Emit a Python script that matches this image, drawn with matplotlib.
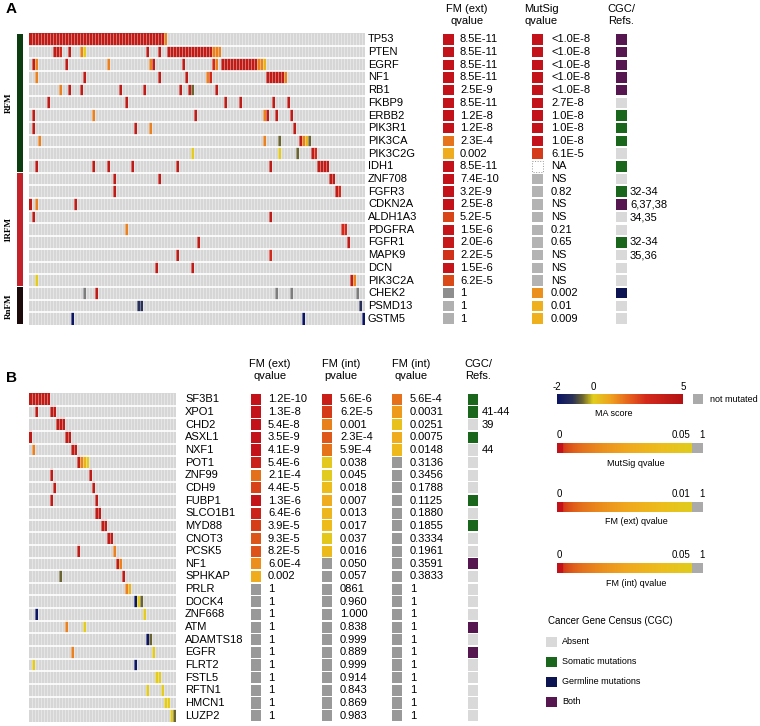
import numpy as np
import matplotlib
matplotlib.use('Agg')
import matplotlib.pyplot as plt
from matplotlib.colors import LinearSegmentedColormap, Normalize, to_rgba

plt.rcParams['font.family'] = ['Liberation Sans', 'DejaVu Sans']

# mutation score levels (MA score)
R, R2, O, Y, Y0, V, S, N, G = 4.2, 3.0, 1.5, 0.6, 0.1, -0.6, -1.2, -2.0, None

# ---------------- panel A data ----------------
a_genes = ['TP53', 'PTEN', 'EGRF', 'NF1', 'RB1', 'FKBP9', 'ERBB2', 'PIK3R1', 'PIK3CA',
           'PIK3C2G', 'IDH1', 'ZNF708', 'FGFR3', 'CDKN2A', 'ALDH1A3', 'PDGFRA', 'FGFR1',
           'MAPK9', 'DCN', 'PIK3C2A', 'CHEK2', 'PSMD13', 'GSTM5']
a_n_samples = 112
# (first sample, last sample, MA score)
a_runs = [
    [(0, 44, R), (45, 45, O)],
    [(8, 9, R), (10, 10, R2), (13, 13, R), (17, 17, O), (18, 18, Y0), (39, 39, R), (43, 43, R),
     (46, 60, R), (61, 63, O)],
    [(1, 1, R), (2, 2, O), (12, 12, R), (26, 26, O), (40, 40, O), (41, 41, R), (51, 51, R),
     (61, 61, R2), (62, 62, O), (64, 75, R), (76, 77, O), (78, 78, Y)],
    [(2, 2, O), (18, 18, R), (43, 43, R), (52, 52, R), (59, 59, O), (60, 60, R2),
     (79, 84, R), (85, 85, O)],
    [(10, 10, O), (13, 13, R), (17, 17, R), (30, 30, R), (38, 38, R), (50, 50, R),
     (53, 53, R), (54, 54, V), (62, 62, R)],
    [(6, 6, R), (32, 32, R), (65, 65, R), (70, 70, R), (81, 81, R), (86, 86, R)],
    [(1, 1, R), (21, 21, O), (55, 55, R), (78, 78, O), (79, 79, R), (82, 82, R), (87, 87, R)],
    [(1, 1, R), (35, 35, R), (40, 40, O), (88, 88, R)],
    [(3, 3, O), (78, 78, O), (83, 83, V), (90, 90, R), (91, 91, O), (92, 92, Y), (93, 93, V)],
    [(54, 54, Y0), (83, 83, Y0), (89, 89, V), (94, 94, R), (95, 95, R2)],
    [(2, 2, R), (21, 21, R), (26, 26, R), (34, 34, R), (49, 49, R), (80, 80, R), (96, 99, R)],
    [(28, 28, R), (43, 43, R), (100, 101, R)],
    [(28, 28, R), (102, 102, R), (103, 103, R2)],
    [(0, 0, R), (2, 2, O), (15, 15, R)],
    [(1, 1, R), (80, 80, R)],
    [(32, 32, O), (104, 105, R2)],
    [(56, 56, R), (106, 106, R)],
    [(49, 49, R), (80, 80, R2)],
    [(42, 42, R), (54, 54, R)],
    [(2, 2, Y0), (107, 107, R), (108, 108, O)],
    [(18, 18, G), (22, 22, R), (82, 82, G), (87, 87, G), (109, 109, G)],
    [(36, 37, S), (110, 110, S)],
    [(14, 14, N), (91, 91, N), (111, 111, N)],
]
a_groups = ['RFM', '1RFM', 'RnFM']
a_group_sizes = [11, 9, 3]
a_group_colors = ['#0b3d10', '#c4222a', '#1c0a0a']
a_fm_ext = ['8.5E-11', '8.5E-11', '8.5E-11', '8.5E-11', '2.5E-9', '8.5E-11', '1.2E-8', '1.2E-8',
            '2.3E-4', '0.002', '8.5E-11', '7.4E-10', '3.2E-9', '2.5E-8', '5.2E-5', '1.5E-6',
            '2.0E-6', '2.2E-5', '1.5E-6', '6.2E-5', '1', '1', '1']
a_mutsig = ['<1.0E-8'] * 5 + ['2.7E-8', '1.0E-8', '1.0E-8', '1.0E-8', '6.1E-5', 'NA', 'NS',
                             '0.82', 'NS', 'NS', '0.21', '0.65', 'NS', 'NS', 'NS', '0.002',
                             '0.01', '0.009']
a_cgc = ['both'] * 5 + ['absent', 'somatic', 'somatic', 'somatic', 'absent', 'somatic',
                        'absent', 'somatic', 'both', 'absent', 'absent', 'somatic', 'absent',
                        'absent', 'absent', 'germline', 'absent', 'absent']
a_refs = [''] * 12 + ['32-34', '6,37,38', '34,35', '', '32-34', '35,36'] + [''] * 5

# ---------------- panel B data ----------------
b_genes = ['SF3B1', 'XPO1', 'CHD2', 'ASXL1', 'NXF1', 'POT1', 'ZNF99', 'CDH9', 'FUBP1',
           'SLCO1B1', 'MYD88', 'CNOT3', 'PCSK5', 'NF1', 'SPHKAP', 'PRLR', 'DOCK4', 'ZNF668',
           'ATM', 'ADAMTS18', 'EGFR', 'FLRT2', 'FSTL5', 'RFTN1', 'HMCN1', 'LUZP2']
b_n_samples = 49
b_runs = [
    [(0, 6, R)],
    [(2, 2, R), (7, 8, R)],
    [(9, 11, R)],
    [(0, 0, R), (12, 13, R)],
    [(1, 1, O), (14, 15, R)],
    [(16, 16, R), (17, 17, O), (18, 18, Y), (19, 19, Y0)],
    [(7, 7, R), (20, 20, R)],
    [(8, 8, R), (21, 21, R)],
    [(7, 7, R), (22, 22, R)],
    [(22, 23, R)],
    [(24, 25, R)],
    [(26, 27, R)],
    [(16, 16, R), (28, 28, O)],
    [(29, 29, R), (30, 30, O)],
    [(10, 10, V), (31, 31, R)],
    [(32, 32, O), (33, 33, Y)],
    [(35, 35, N), (36, 36, Y0), (37, 37, V)],
    [(2, 2, N), (38, 38, Y0)],
    [(12, 12, O), (18, 18, Y0)],
    [(39, 39, N), (40, 40, V)],
    [(14, 14, O), (41, 41, Y0)],
    [(1, 1, Y0), (35, 35, N)],
    [(42, 43, Y0)],
    [(39, 39, Y0), (44, 44, Y0)],
    [(45, 46, Y0)],
    [(47, 47, Y0), (48, 48, V)],
]
b_fm_ext = ['1.2E-10', '1.3E-8', '5.4E-8', '3.5E-9', '4.1E-9', '5.4E-6', '2.1E-4', '4.4E-5',
            '1.3E-6', '6.4E-6', '3.9E-5', '9.3E-5', '8.2E-5', '6.0E-4', '0.002'] + ['1'] * 11
b_fm_int_p = ['5.6E-6', '6.2E-5', '0.001', '2.3E-4', '5.9E-4', '0.038', '0.045', '0.018',
              '0.007', '0.013', '0.017', '0.037', '0.016', '0.050', '0.057', '0861', '0.960',
              '1.000', '0.838', '0.999', '0.889', '0.999', '0.914', '0.843', '0.869', '0.983']
b_fm_int_q = ['5.6E-4', '0.0031', '0.0251', '0.0075', '0.0148', '0.3136', '0.3456', '0.1788',
              '0.1125', '0.1880', '0.1855', '0.3334', '0.1961', '0.3591', '0.3833'] + ['1'] * 11
b_cgc = ['somatic', 'somatic', 'absent', 'somatic', 'absent', 'absent', 'absent', 'absent',
         'somatic', 'absent', 'somatic', 'absent', 'absent', 'both', 'absent', 'absent',
         'absent', 'absent', 'both', 'absent', 'both', 'absent', 'absent', 'absent', 'absent',
         'absent']
b_refs = ['', '41-44', '39', '', '44'] + [''] * 21

cgc_names = ['Absent', 'Somatic mutations', 'Germline mutations', 'Both']
cgc_colors = {'absent': '#d9d9d9', 'somatic': '#1b661d', 'germline': '#0c1552', 'both': '#561650'}

# ---------------- colours ----------------
ma_cmap = LinearSegmentedColormap.from_list('ma', [
    (0.0, '#0b1563'), (0.12, '#2a3158'), (0.2, '#6b6530'), (0.286, '#e2cf1f'),
    (0.43, '#efa01f'), (0.57, '#e6621e'), (0.71, '#d42a1c'), (1.0, '#b31314')])
ma_norm = Normalize(-2, 5)
q_cmap = LinearSegmentedColormap.from_list('q', [
    (0.0, '#c3121a'), (0.3, '#cf2a18'), (0.45, '#da4a18'), (0.6, '#e6761c'),
    (0.8, '#f0a81e'), (0.92, '#ecbe1c'), (1.0, '#e0cc1e')])
BG = '#d6d6d6'
MUT_GRAY = '#7d7d7d'

W, H = 760, 726
fig = plt.figure(figsize=(W / 100, H / 100), dpi=100)


def px_axes(x0, y0, x1, y1):
    ax = fig.add_axes([x0 / W, 1 - y1 / H, (x1 - x0) / W, (y1 - y0) / H])
    ax.set_axis_off()
    return ax


def ftext(x, y, s, **kw):
    fig.text(x / W, 1 - y / H, s, **kw)


def q_color(label, thr, gray):
    if label == 'NA':
        return 'white'
    if label == 'NS':
        return gray
    v = float(label.lstrip('<'))
    if v >= thr:
        return gray
    t = (np.log10(v) + 6) / (np.log10(thr) + 6)
    return q_cmap(float(np.clip(t, 0, 1)))


def draw_heatmap(ax, runs, n_cols):
    n_rows = len(runs)
    cells = np.empty((n_rows, n_cols, 4))
    cells[:] = to_rgba(BG)
    for i, row in enumerate(runs):
        for start, stop, score in row:
            c = to_rgba(MUT_GRAY) if score is None else ma_cmap(ma_norm(score))
            cells[i, start:stop + 1] = c
    ax.imshow(cells, aspect='auto', interpolation='nearest', extent=(0, n_cols, n_rows, 0))
    # thin light stripes between samples, white gaps between genes
    ax.vlines(np.arange(1, n_cols), 0, n_rows, color='white', lw=0.45, alpha=0.6)
    ax.hlines(np.arange(1, n_rows), 0, n_cols, color='white', lw=1.2)
    ax.set_xlim(0, n_cols)
    ax.set_ylim(n_rows, 0)


def draw_column(ax, x, width, hfrac, colors, labels=None, text_x=None, fs=8):
    n = len(colors)
    rows = np.arange(n)
    ax.bar(np.full(n, x), np.full(n, hfrac), width=width, bottom=rows + (1 - hfrac) / 2,
           align='edge', color=colors, linewidth=0)
    if labels is not None:
        for i, s in enumerate(labels):
            ax.text(text_x, i + 0.5, s, va='center', ha='left', fontsize=fs)


# ================= panel A =================
ftext(6, 9, 'A', fontsize=11, fontweight='bold', va='center')
a_top, a_bot = 33, 325
hm = px_axes(29, a_top, 365, a_bot)
draw_heatmap(hm, a_runs, a_n_samples)

gax = px_axes(17, a_top, 23, a_bot)
starts = np.concatenate([[0], np.cumsum(a_group_sizes)[:-1]])
gax.bar(np.zeros(3), np.array(a_group_sizes) - 0.08, width=1, bottom=starts + 0.04,
        align='edge', color=a_group_colors)
gax.set_xlim(0, 1)
gax.set_ylim(len(a_genes), 0)
for name, st, sz in zip(a_groups, starts, a_group_sizes):
    gax.text(-1.4, st + sz / 2, name, rotation=90, ha='center', va='center', fontsize=6.5,
             fontweight='bold', family=['Liberation Serif', 'DejaVu Serif'])

tab = px_axes(365, a_top, 760, a_bot)
tab.set_xlim(365, 760)
tab.set_ylim(len(a_genes), 0)
for i, g in enumerate(a_genes):
    tab.text(368, i + 0.5, g, va='center', ha='left', fontsize=8)
fm_cols = [q_color(s, 0.01, '#8e8e8e' if i == 20 else '#b0b0b0') for i, s in enumerate(a_fm_ext)]
draw_column(tab, 443, 11, 0.82, fm_cols, a_fm_ext, 460)
ms_cols = [q_color(s, 0.05, '#b3b3b3') for s in a_mutsig]
draw_column(tab, 532, 11, 0.82, ms_cols, a_mutsig, 551)
na = a_mutsig.index('NA')
tab.bar(532, 0.82, width=11, bottom=na + 0.09, align='edge', color='white',
        edgecolor='#999999', linestyle=':', linewidth=0.7)
draw_column(tab, 616, 11, 0.82, [cgc_colors[c] for c in a_cgc], a_refs, 630)

ftext(467, 15, 'FM (ext)\nqvalue', ha='center', va='center', fontsize=8, linespacing=1.25)
ftext(541, 15, 'MutSig\nqvalue', ha='center', va='center', fontsize=8, linespacing=1.25)
ftext(621, 15, 'CGC/\nRefs.', ha='center', va='center', fontsize=8, linespacing=1.25)

# ================= panel B =================
ftext(6, 378, 'B', fontsize=11, fontweight='bold', va='center')
b_top, b_bot = 393, 722
hm_b = px_axes(29, b_top, 176, b_bot)
draw_heatmap(hm_b, b_runs, b_n_samples)

tab_b = px_axes(176, b_top, 540, b_bot)
tab_b.set_xlim(176, 540)
tab_b.set_ylim(len(b_genes), 0)
for i, g in enumerate(b_genes):
    tab_b.text(185, i + 0.5, g, va='center', ha='left', fontsize=8)
draw_column(tab_b, 251, 10, 0.88, [q_color(s, 0.01, '#999999') for s in b_fm_ext], b_fm_ext, 268)
draw_column(tab_b, 322, 10, 0.88, [q_color(s, 0.05, '#999999') for s in b_fm_int_p], b_fm_int_p, 340)
draw_column(tab_b, 392, 10, 0.88, [q_color(s, 0.05, '#999999') for s in b_fm_int_q], b_fm_int_q, 410)
draw_column(tab_b, 468, 10, 0.88, [cgc_colors[c] for c in b_cgc], b_refs, 482)

ftext(270, 370, 'FM (ext)\nqvalue', ha='center', va='center', fontsize=8, linespacing=1.25)
ftext(341, 370, 'FM (int)\npvalue', ha='center', va='center', fontsize=8, linespacing=1.25)
ftext(411, 370, 'FM (int)\nqvalue', ha='center', va='center', fontsize=8, linespacing=1.25)
ftext(478, 370, 'CGC/\nRefs.', ha='center', va='center', fontsize=8, linespacing=1.25)

# ================= legends =================
lg = px_axes(540, 378, 760, 726)
ma_vals = np.linspace(-2, 5, 300)
lg.imshow(ma_vals[None, :], cmap=ma_cmap, norm=ma_norm, aspect='auto', extent=(557, 683, 404, 394))
for v in [-2, 0, 5]:
    lg.text(557 + (v + 2) / 7 * 126, 387, str(v), ha='center', va='center', fontsize=7)
lg.text(614, 413, 'MA score', ha='center', va='center', fontsize=6.5)
lg.bar(693, 10, width=10, bottom=394, align='edge', color='#aaaaaa')
lg.text(710, 399, 'not mutated', ha='left', va='center', fontsize=6.5)

q_bars = [('MutSig qvalue', '0.05', 443), ('FM (ext) qvalue', '0.01', 502), ('FM (int) qvalue', '0.05', 563)]
u = np.linspace(0, 1, 300)
grad = 0.32 + 0.68 * np.sqrt(u)
for title, thr_label, y in q_bars:
    lg.bar(557, 10, width=6, bottom=y, align='edge', color=q_cmap(0.0), linewidth=0)
    lg.imshow(grad[None, :], cmap=q_cmap, vmin=0, vmax=1, aspect='auto', extent=(563, 692, y + 10, y))
    lg.bar(692, 10, width=11, bottom=y, align='edge', color='#aaaaaa', linewidth=0)
    lg.text(559, y - 8, '0', ha='center', va='center', fontsize=7)
    lg.text(690, y - 8, thr_label, ha='right', va='center', fontsize=7)
    lg.text(702, y - 8, '1', ha='center', va='center', fontsize=7)
    lg.text(636, y + 20, title, ha='center', va='center', fontsize=6.5)

lg.text(548, 621, 'Cancer Gene Census (CGC)', ha='left', va='center', fontsize=7)
for k, (name, key) in enumerate(zip(cgc_names, ['absent', 'somatic', 'germline', 'both'])):
    y = 637 + 20 * k
    lg.bar(546, 10, width=11, bottom=y, align='edge', color=cgc_colors[key], linewidth=0)
    lg.text(562, y + 5, name, ha='left', va='center', fontsize=6.5)
lg.set_xlim(540, 760)
lg.set_ylim(726, 378)

fig.savefig('out.png', dpi=100, facecolor='white')
